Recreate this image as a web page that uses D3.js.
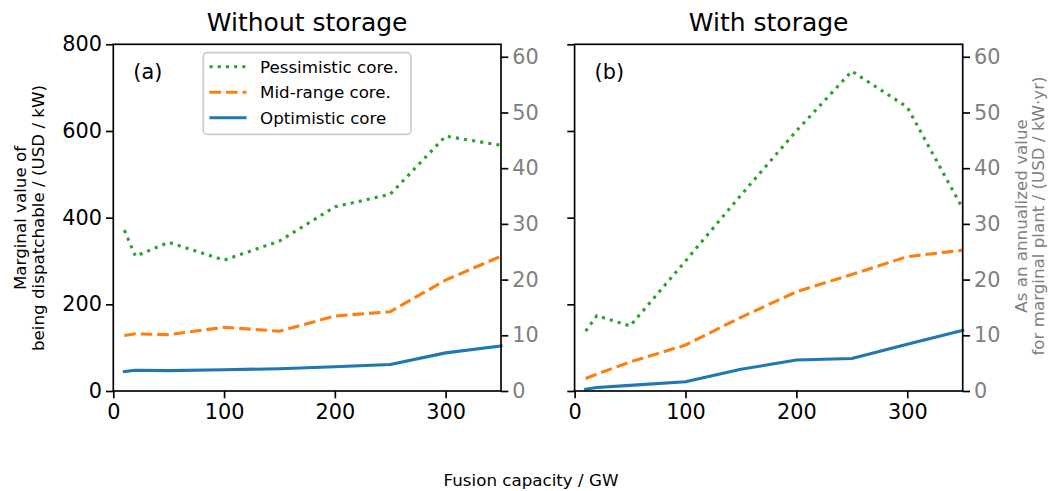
<!DOCTYPE html>
<html>
<head>
<meta charset="utf-8">
<script src="https://cdn.jsdelivr.net/npm/d3@7/dist/d3.min.js"></script>
<style>
  html, body { margin: 0; padding: 0; background: #fff; }
  svg { display: block; font-family: "DejaVu Sans", sans-serif; }
</style>
</head>
<body>
<svg id="chart" width="1050" height="491"></svg>
<script>
// ---------- data ----------
const capacities = [10, 20, 50, 100, 150, 200, 250, 300, 350];
const noStoragePessimistic = [371, 311, 343, 302, 346, 425, 454, 588, 567];
const noStorageMidRange    = [128, 132, 130, 147, 138, 173, 183, 256, 311];
const noStorageOptimistic  = [45, 48, 47, 49, 51.5, 56, 61, 88, 104];
const storagePessimistic   = [138, 174, 150, 300, 452, 600, 738, 655, 421];
const storageMidRange      = [29, 39, 67, 106, 170, 229, 269, 310, 325];
const storageOptimistic    = [4, 8, 13, 21.5, 50, 71.5, 75, 108, 140];

const xTicks = [0, 100, 200, 300];
const yTicks = [0, 200, 400, 600, 800];
const rightTicks = [0, 10, 20, 30, 40, 50, 60];
const seriesNames = ["Pessimistic core.", "Mid-range core.", "Optimistic core"];
const panelTitles = ["Without storage", "With storage"];
const panelTags = ["(a)", "(b)"];
const annualFactor = 0.07780; // right axis = left axis * factor

// ---------- styles ----------
const colors = ["#2ca02c", "#ff7f0e", "#1f77b4"];
const dashes = ["3.1,5.1", "11.5,5", null];
const LW = 3.1;
const grey = "#808080";

const svg = d3.select("#chart");

const yTop = 44.3, yBot = 391;
const panels = [
  { x0: 113.3, x1: 501, series: [noStoragePessimistic, noStorageMidRange, noStorageOptimistic], leftLabels: true },
  { x0: 574.6, x1: 962.7, series: [storagePessimistic, storageMidRange, storageOptimistic], leftLabels: false }
];

panels.forEach((p, pi) => {
  const x = d3.scaleLinear().domain([0, 350]).range([p.x0, p.x1]);
  const y = d3.scaleLinear().domain([0, 800]).range([yBot, yTop]);
  const yR = d3.scaleLinear().domain([0, 800 * annualFactor]).range([yBot, yTop]);

  const g = svg.append("g");

  // lines
  const line = d3.line().x((d, i) => x(capacities[i])).y(d => y(d));
  p.series.forEach((s, si) => {
    g.append("path")
      .datum(s)
      .attr("d", line)
      .attr("fill", "none")
      .attr("stroke", colors[si])
      .attr("stroke-width", LW)
      .attr("stroke-dasharray", dashes[si])
      .attr("stroke-linecap", dashes[si] ? "butt" : "square")
      .attr("stroke-linejoin", "round");
  });

  // axes
  const xAxis = d3.axisBottom(x).tickValues(xTicks).tickSize(7.3).tickPadding(4);
  const gx = g.append("g").attr("transform", `translate(0,${yBot})`).call(xAxis);
  const yAxis = d3.axisLeft(y).tickValues(yTicks).tickSize(7.3).tickPadding(4)
    .tickFormat(p.leftLabels ? d3.format("d") : () => "");
  const gy = g.append("g").attr("transform", `translate(${p.x0},0)`).call(yAxis);
  const yRAxis = d3.axisRight(yR).tickValues(rightTicks).tickSize(7.3).tickPadding(4);
  const gr = g.append("g").attr("transform", `translate(${p.x1},0)`).call(yRAxis);

  [gx, gy, gr].forEach(a => {
    a.select(".domain").remove();
    a.selectAll(".tick line").attr("stroke-width", 1.67);
    a.selectAll(".tick text").attr("font-size", 20.8).attr("font-family", "DejaVu Sans").attr("fill", "#000");
  });
  gx.selectAll(".tick text").attr("dy", "0.8em");
  gr.selectAll(".tick text").attr("fill", grey);
  gr.selectAll(".tick line").attr("stroke", "#000");

  // frame
  g.append("rect")
    .attr("x", p.x0).attr("y", yTop)
    .attr("width", p.x1 - p.x0).attr("height", yBot - yTop)
    .attr("fill", "none").attr("stroke", "#000").attr("stroke-width", 1.67);

  // title
  svg.append("text")
    .attr("x", (p.x0 + p.x1) / 2).attr("y", 31)
    .attr("text-anchor", "middle").attr("font-size", 25)
    .text(panelTitles[pi]);

  // tag
  svg.append("text")
    .attr("x", p.x0 + 20).attr("y", 79)
    .attr("font-size", 20.8)
    .text(panelTags[pi]);

  // legend (left panel only)
  if (pi === 0) {
    const lg = svg.append("g");
    lg.append("rect")
      .attr("x", 203.3).attr("y", 52.7).attr("width", 207.7).attr("height", 81.6)
      .attr("rx", 4).attr("fill", "#fff").attr("fill-opacity", 0.8)
      .attr("stroke", "#cccccc").attr("stroke-width", 1.67);
    const rowsY = [66.7, 92.3, 117.7];
    seriesNames.forEach((name, si) => {
      lg.append("line")
        .attr("x1", 209.5).attr("x2", 246.5)
        .attr("y1", rowsY[si]).attr("y2", rowsY[si])
        .attr("stroke", colors[si]).attr("stroke-width", LW)
        .attr("stroke-dasharray", dashes[si]);
      lg.append("text")
        .attr("x", 260).attr("y", rowsY[si] + 6)
        .attr("font-size", 16.7)
        .text(name);
    });
  }
});

// left y label
const lyl = svg.append("text")
  .attr("transform", "translate(0,218) rotate(-90)")
  .attr("text-anchor", "middle").attr("font-size", 16.7);
lyl.append("tspan").attr("x", 0).attr("y", 26).text("Marginal value of");
lyl.append("tspan").attr("x", 0).attr("y", 44).text("being dispatchable / (USD / kW)");

// right y label
const ryl = svg.append("text")
  .attr("transform", "translate(0,216) rotate(-90)")
  .attr("text-anchor", "middle").attr("font-size", 16.7).attr("fill", grey);
ryl.append("tspan").attr("x", 0).attr("y", 1027).text("As an annualized value");
ryl.append("tspan").attr("x", 0).attr("y", 1044).text("for marginal plant / (USD / kW\u00B7yr)");

// x label
svg.append("text")
  .attr("x", 531).attr("y", 486)
  .attr("text-anchor", "middle").attr("font-size", 16.7)
  .text("Fusion capacity / GW");
</script>
</body>
</html>
